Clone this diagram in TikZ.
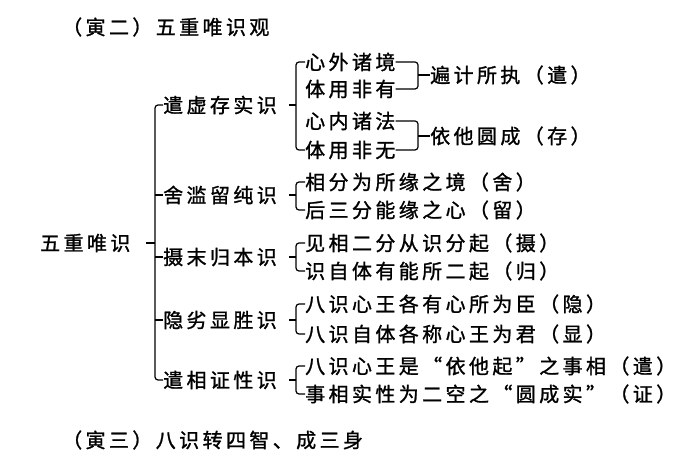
\documentclass[tikz,border=0pt]{standalone}
\usepackage{fontspec}
\setmainfont{Noto Sans CJK SC}[LetterSpace=17,FakeBold=1.2]
\begin{document}
\begin{tikzpicture}[x=1pt,y=-1pt,
  t/.style={anchor=west,inner sep=0pt,font=\fontsize{20}{20}\selectfont},
  br/.style={line width=1.2pt,rounded corners=3pt}]
\useasboundingbox (0,0) rectangle (700,470);
\node[t] (h1) at (62,27) {（寅二）五重唯识观};
\node[t] (root) at (40,243) {五重唯识};
\node[t] (a) at (163,105) {遣虚存实识};
\node[t] (b) at (163,195) {舍滥留纯识};
\node[t] (c) at (163,257) {摄末归本识};
\node[t] (d) at (163,320) {隐劣显胜识};
\node[t] (e) at (163,380) {遣相证性识};
\node[t] (a1) at (305,62) {心外诸境};
\node[t] (a2) at (305,89) {体用非有};
\node[t] (a3) at (305,121) {心内诸法};
\node[t] (a4) at (305,150) {体用非无};
\node[t] (p) at (430,75) {遍计所执（遣）};
\node[t] (q) at (430,136) {依他圆成（存）};
\node[t] (b1) at (305,182) {相分为所缘之境（舍）};
\node[t] (b2) at (305,210) {后三分能缘之心（留）};
\node[t] (c1) at (305,243) {见相二分从识分起（摄）};
\node[t] (c2) at (305,271) {识自体有能所二起（归）};
\node[t] (d1) at (305,304) {八识心王各有心所为臣（隐）};
\node[t] (d2) at (305,334) {八识自体各称心王为君（显）};
\node[t] (e1) at (305,366) {八识心王是“依他起”之事相（遣）};
\node[t] (e2) at (305,394) {事相实性为二空之“圆成实”（证）};
\node[t] (h2) at (62,440) {（寅三）八识转四智、成三身};
% main bracket
\draw[br] (a.west) -| (155,243) |- (e.west);
\draw[line width=1.2pt] (146,243) -- (155,243);
\draw[line width=1.2pt] (155,195) -- (b.west) (155,257) -- (c.west) (155,320) -- (d.west);
% level-2 brackets
\newcommand\brk[4]{\draw[br] (#2) -| (#1,#4) |- (#3); \draw[br] (#1,#4)++(-7,0) -- (#1,#4);}
\brk{296}{a1.west}{a4.west}{105}
\brk{296}{b1.west}{b2.west}{195}
\brk{296}{c1.west}{c2.west}{257}
\brk{296}{d1.west}{d2.west}{320}
\brk{296}{e1.west}{e2.west}{380}
% level-3 brackets
\draw[br] (a1.east) -| (418,75) |- (a2.east); \draw[line width=1.2pt] (418,75) -- (p.west);
\draw[br] (a3.east) -| (418,136) |- (a4.east); \draw[line width=1.2pt] (418,136) -- (q.west);
\end{tikzpicture}
\end{document}
